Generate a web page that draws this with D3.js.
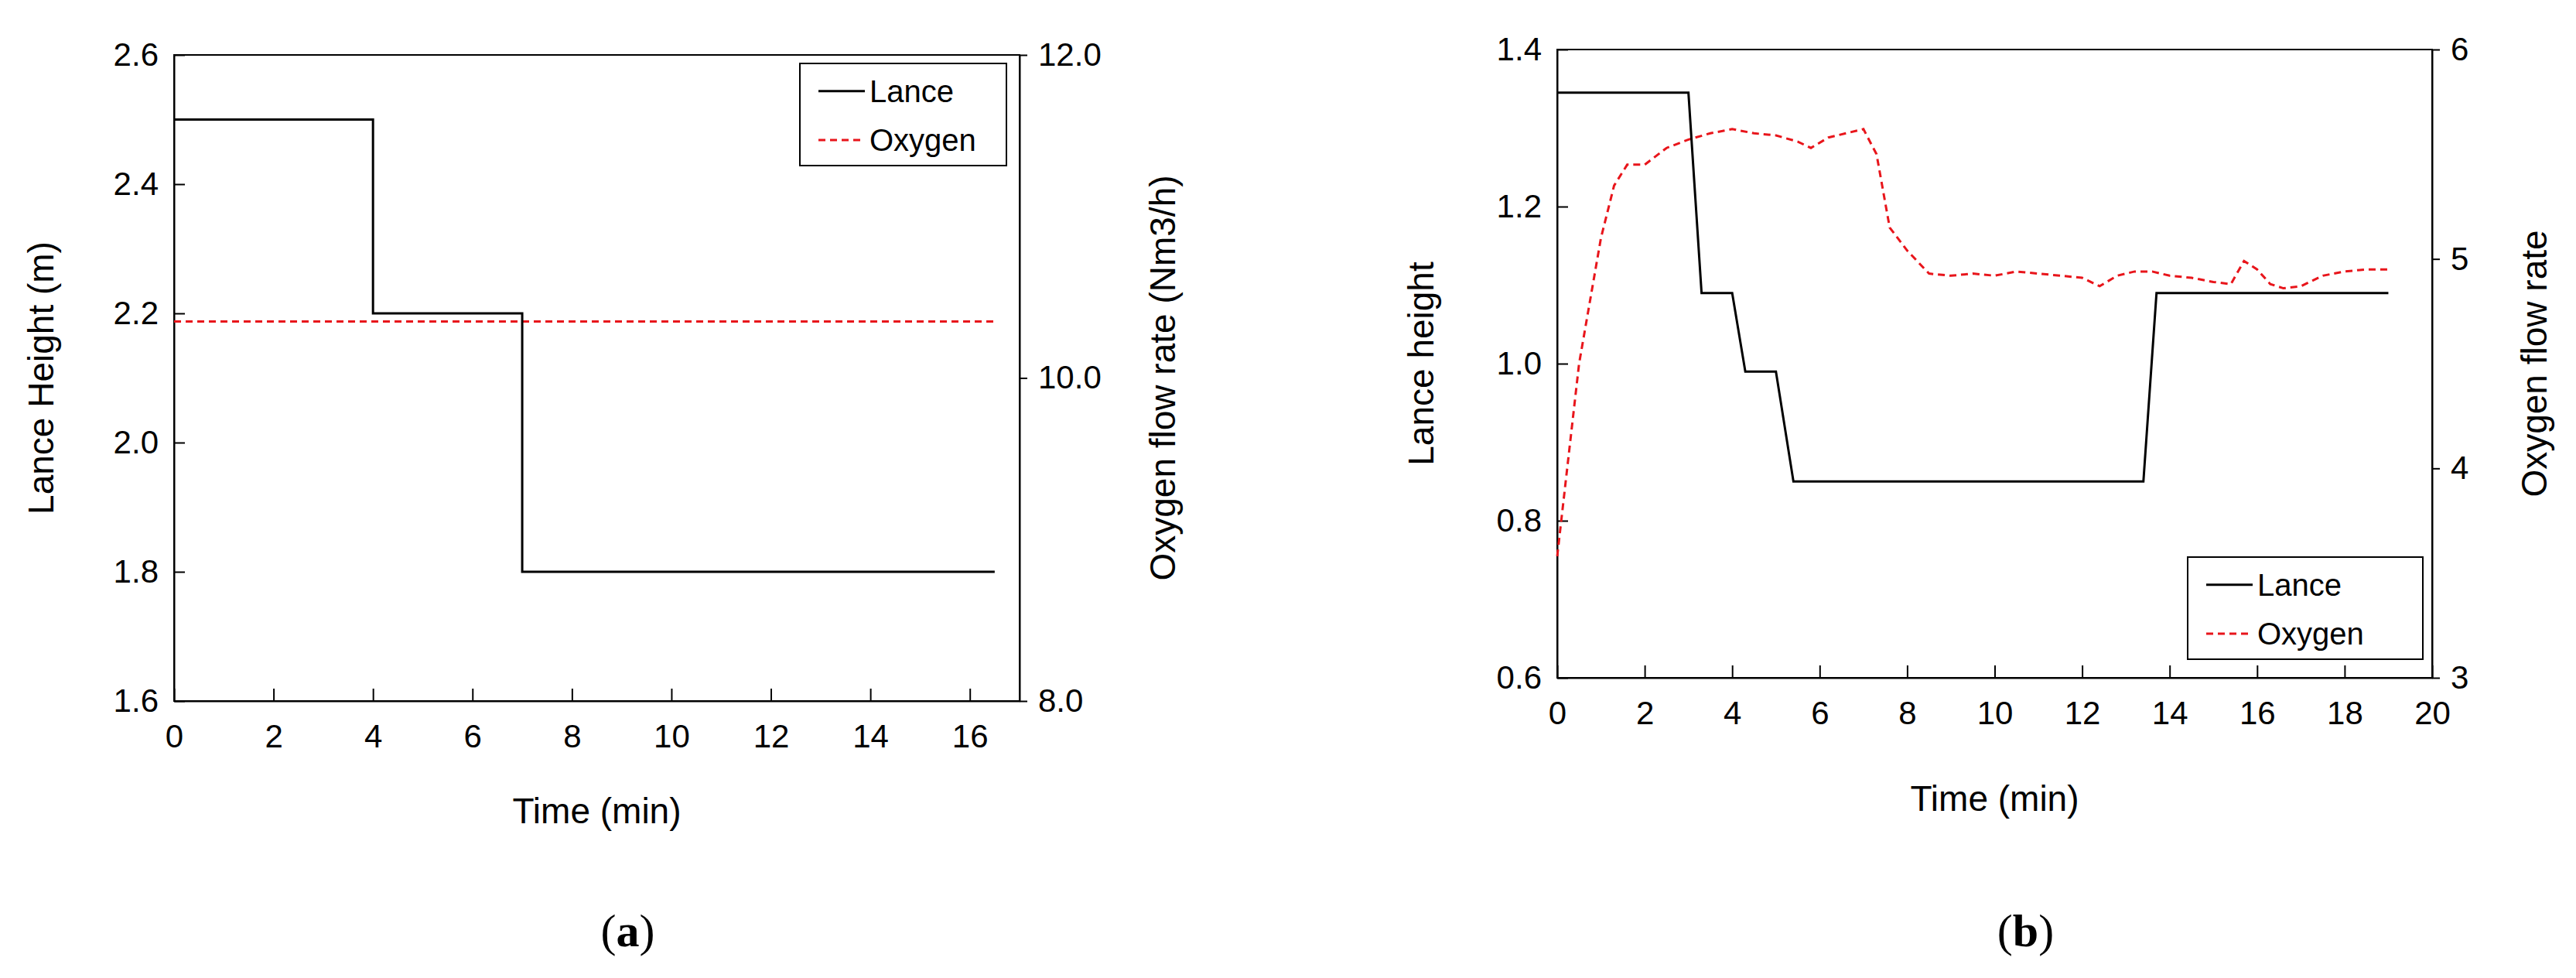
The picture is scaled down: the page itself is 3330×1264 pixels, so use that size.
<!DOCTYPE html>
<head>
<meta charset="utf-8">
<style>
body { margin:0; background:#fff; }
text { font-family: "Liberation Sans Narrow", "Liberation Sans", Arial, sans-serif; }
.lab { font-family: "Liberation Sans", Arial, sans-serif; font-size:46px; }
.tick { font-size:42px; }
</style>
</head>
<body>
<script src="https://d3js.org/d3.v7.min.js"></script>
<script>
// panel (a)
var lanceA_t = [0, 4, 4, 7, 7, 16.5];
var lanceA_h = [2.5, 2.5, 2.2, 2.2, 1.8, 1.8];
var oxyA_t = [0, 16.5];
var oxyA_q = [10.35, 10.35];
// panel (b)
var lanceB_t = [0, 3.0, 3.3, 4.0, 4.3, 5.0, 5.4, 13.4, 13.7, 19];
var lanceB_h = [1.345, 1.345, 1.09, 1.09, 0.99, 0.99, 0.85, 0.85, 1.09, 1.09];
var oxyB_t = [0, 0.5, 1, 1.3, 1.6, 2, 2.5, 3, 3.5, 4, 4.5, 5, 5.5, 5.8, 6.2, 6.6, 7, 7.3, 7.6, 8, 8.5, 9, 9.5, 10, 10.5, 11, 11.5, 12, 12.4, 12.8, 13.2, 13.6, 14, 14.5, 15, 15.4, 15.7, 16, 16.3, 16.6, 17, 17.5, 18, 18.5, 19];
var oxyB_q = [3.58, 4.5, 5.1, 5.35, 5.45, 5.45, 5.53, 5.57, 5.6, 5.62, 5.6, 5.59, 5.56, 5.53, 5.58, 5.6, 5.62, 5.5, 5.15, 5.04, 4.93, 4.92, 4.93, 4.92, 4.94, 4.93, 4.92, 4.91, 4.87, 4.92, 4.94, 4.94, 4.92, 4.91, 4.89, 4.88, 4.99, 4.95, 4.88, 4.86, 4.87, 4.92, 4.94, 4.95, 4.95];

var panels = [
  {x0:225, x1:1318, y0:71, y1:906, xd:[0,17], xt:d3.range(0,17,2), yd:[1.6,2.6], yt:[1.6,1.8,2.0,2.2,2.4,2.6], yf:".1f",
   rd:[8,12], rt:[8,10,12], rf:".1f", lanceT:lanceA_t, lanceH:lanceA_h, oxyT:oxyA_t, oxyQ:oxyA_q,
   ylab:"Lance Height (m)", rlab:"Oxygen flow rate (Nm3/h)", ylx:53, rlx:1503, xty:960, xly:1048,
   leg:[1034,82,1301,214], cap:"a"},
  {x0:2013, x1:3144, y0:64, y1:876, xd:[0,20], xt:d3.range(0,21,2), yd:[0.6,1.4], yt:[0.6,0.8,1.0,1.2,1.4], yf:".1f",
   rd:[3,6], rt:[3,4,5,6], rf:"d", lanceT:lanceB_t, lanceH:lanceB_h, oxyT:oxyB_t, oxyQ:oxyB_q,
   ylab:"Lance height", rlab:"Oxygen flow rate", ylx:1837, rlx:3276, xty:929, xly:1032,
   leg:[2828,720,3132,852], cap:"b"}
];

var svg = d3.select("body").append("svg").attr("width", 3330).attr("height", 1264);

panels.forEach(function(p) {
  var sx = d3.scaleLinear().domain(p.xd).range([p.x0, p.x1]);
  var sy = d3.scaleLinear().domain(p.yd).range([p.y1, p.y0]);
  var sr = d3.scaleLinear().domain(p.rd).range([p.y1, p.y0]);
  var g = svg.append("g");

  g.append("rect").attr("x", p.x0).attr("y", p.y0).attr("width", p.x1 - p.x0).attr("height", p.y1 - p.y0)
    .attr("fill", "none").attr("stroke", "#000").attr("stroke-width", 2);

  var ax = g.append("g").attr("transform", "translate(0," + p.y1 + ")")
    .call(d3.axisBottom(sx).tickValues(p.xt).tickSizeInner(-16).tickSizeOuter(0).tickPadding(30));
  var ay = g.append("g").attr("transform", "translate(" + p.x0 + ",0)")
    .call(d3.axisLeft(sy).tickValues(p.yt).tickFormat(d3.format(p.yf)).tickSizeInner(-14).tickSizeOuter(0).tickPadding(20));
  var ar = g.append("g").attr("transform", "translate(" + p.x1 + ",0)")
    .call(d3.axisRight(sr).tickValues(p.rt).tickFormat(d3.format(p.rf)).tickSizeInner(10).tickSizeOuter(0).tickPadding(14));
  [ax, ay, ar].forEach(function(a) {
    a.select(".domain").attr("stroke-width", 2);
    a.selectAll("line").attr("stroke-width", 2);
    a.selectAll("text").attr("class", "tick").attr("fill", "#000");
  });

  var lanceLine = d3.line().x(function(d, i) { return sx(p.lanceT[i]); }).y(function(d) { return sy(d); });
  var oxyLine = d3.line().x(function(d, i) { return sx(p.oxyT[i]); }).y(function(d) { return sr(d); });
  g.append("path").attr("d", oxyLine(p.oxyQ)).attr("fill", "none").attr("stroke", "#e8151b")
    .attr("stroke-width", 3).attr("stroke-dasharray", "9,6");
  g.append("path").attr("d", lanceLine(p.lanceH)).attr("fill", "none").attr("stroke", "#000").attr("stroke-width", 3);

  var cy = (p.y0 + p.y1) / 2;
  g.append("text").attr("class", "lab").attr("transform", "translate(" + p.ylx + "," + cy + ") rotate(-90)")
    .attr("text-anchor", "middle").attr("dy", "0.35em").text(p.ylab);
  g.append("text").attr("class", "lab").attr("transform", "translate(" + p.rlx + "," + cy + ") rotate(-90)")
    .attr("text-anchor", "middle").attr("dy", "0.35em").text(p.rlab);
  g.append("text").attr("class", "lab").attr("x", (p.x0 + p.x1) / 2).attr("y", p.xly)
    .attr("text-anchor", "middle").attr("dy", "0.35em").text("Time (min)");

  // legend
  var L = p.leg;
  g.append("rect").attr("x", L[0]).attr("y", L[1]).attr("width", L[2] - L[0]).attr("height", L[3] - L[1])
    .attr("fill", "#fff").attr("stroke", "#000").attr("stroke-width", 2);
  var rows = [{t:"Lance", c:"#000", d:null}, {t:"Oxygen", c:"#e8151b", d:"9,6"}];
  rows.forEach(function(r, i) {
    var yy = L[1] + (L[3] - L[1]) * (0.27 + 0.48 * i);
    g.append("line").attr("x1", L[0] + 24).attr("x2", L[0] + 84).attr("y1", yy).attr("y2", yy)
      .attr("stroke", r.c).attr("stroke-width", 3).attr("stroke-dasharray", r.d);
    g.append("text").attr("x", L[0] + 90).attr("y", yy).attr("dy", "0.35em")
      .style("font-family", "'Liberation Sans', Arial, sans-serif").style("font-size", "40px").text(r.t);
  });

  var cap = g.append("text").attr("x", (p.x0 + p.x1) / 2 + 40).attr("y", 1202).attr("dy", "0.35em")
    .attr("text-anchor", "middle").style("font-family", "'Liberation Serif', 'Times New Roman', serif").style("font-size", "60px");
  cap.append("tspan").text("(");
  cap.append("tspan").style("font-weight", "bold").text(p.cap);
  cap.append("tspan").text(")");
});
</script>
</body>
